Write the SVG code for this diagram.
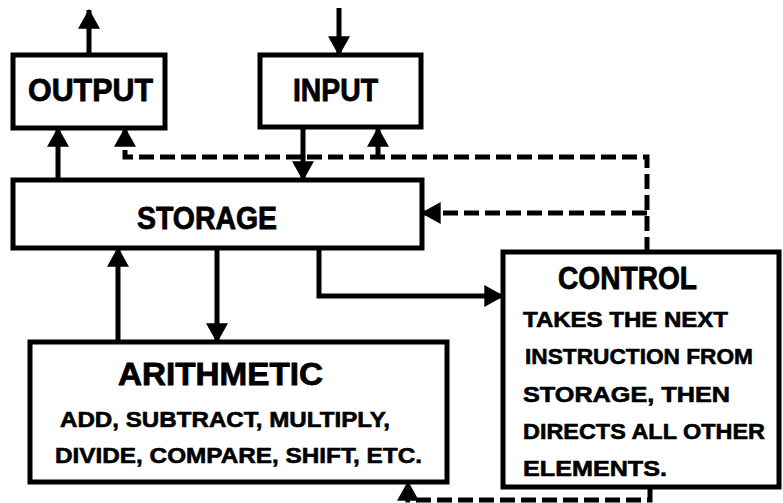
<svg xmlns="http://www.w3.org/2000/svg" width="783" height="503" viewBox="0 0 783 503">
<style>
.box{fill:#fff;stroke:#000;stroke-width:5;stroke-linejoin:miter}
.ln{fill:none;stroke:#000;stroke-width:5}
.dash{fill:none;stroke:#000;stroke-width:5;stroke-dasharray:15,6}
.big{font-family:"Liberation Sans",Arial,sans-serif;font-weight:bold;font-size:31px;fill:#000;stroke:#000;stroke-width:0.8}
.sm{font-family:"Liberation Sans",Arial,sans-serif;font-weight:bold;font-size:22px;fill:#000;stroke:#000;stroke-width:0.6}
</style>
<defs>
<marker id="ah" markerUnits="userSpaceOnUse" markerWidth="22" markerHeight="22" viewBox="0 0 18 20" refX="17" refY="10" orient="auto">
<path d="M0,0 L18,10 L0,20 Z" fill="#000"/>
</marker>
</defs>
<rect width="783" height="503" fill="#fff"/>
<g id="connectors">
<line class="ln" x1="89" y1="55" x2="89" y2="10" marker-end="url(#ah)"/>
<line class="ln" x1="339" y1="8" x2="339" y2="55" marker-end="url(#ah)"/>
<line class="ln" x1="58" y1="180" x2="58" y2="128" marker-end="url(#ah)"/>
<line class="ln" x1="303" y1="128" x2="303" y2="180" marker-end="url(#ah)"/>
<path class="dash" d="M647,252 V157 H125 V128" marker-end="url(#ah)"/>
<path class="dash" d="M378,157 V128" marker-end="url(#ah)"/>
<path class="dash" d="M647,213 H422" marker-end="url(#ah)"/>
<path class="ln" d="M319,248 V296 H503" marker-end="url(#ah)"/>
<line class="ln" x1="118" y1="342" x2="118" y2="248" marker-end="url(#ah)"/>
<line class="ln" x1="217" y1="248" x2="217" y2="342" marker-end="url(#ah)"/>
<path class="dash" d="M650,488 V500 H408 V482" marker-end="url(#ah)"/>
</g>
<g id="output">
<rect class="box" x="13" y="55" width="152" height="73"/>
<text class="big" x="28" y="101" textLength="125" lengthAdjust="spacingAndGlyphs">OUTPUT</text>
</g>
<g id="input">
<rect class="box" x="260" y="55" width="161" height="72"/>
<text class="big" x="293" y="101" textLength="85" lengthAdjust="spacingAndGlyphs">INPUT</text>
</g>
<g id="storage">
<rect class="box" x="13" y="180" width="409" height="68"/>
<text class="big" x="137" y="229" textLength="140" lengthAdjust="spacingAndGlyphs">STORAGE</text>
</g>
<g id="arithmetic">
<rect class="box" x="30" y="342" width="417" height="140"/>
<text class="big" x="118" y="385" textLength="205" lengthAdjust="spacingAndGlyphs">ARITHMETIC</text>
<text class="sm" x="60" y="427" textLength="330" lengthAdjust="spacingAndGlyphs">ADD, SUBTRACT, MULTIPLY,</text>
<text class="sm" x="55" y="463" textLength="367" lengthAdjust="spacingAndGlyphs">DIVIDE, COMPARE, SHIFT, ETC.</text>
</g>
<g id="control">
<rect class="box" x="503" y="252" width="276" height="235"/>
<text class="big" x="558" y="289" textLength="139" lengthAdjust="spacingAndGlyphs">CONTROL</text>
<text class="sm" x="523" y="327" textLength="205" lengthAdjust="spacingAndGlyphs">TAKES THE NEXT</text>
<text class="sm" x="525" y="364" textLength="228" lengthAdjust="spacingAndGlyphs">INSTRUCTION FROM</text>
<text class="sm" x="523" y="402" textLength="207" lengthAdjust="spacingAndGlyphs">STORAGE, THEN</text>
<text class="sm" x="523" y="439" textLength="242" lengthAdjust="spacingAndGlyphs">DIRECTS ALL OTHER</text>
<text class="sm" x="523" y="476" textLength="144" lengthAdjust="spacingAndGlyphs">ELEMENTS.</text>
</g>
</svg>
